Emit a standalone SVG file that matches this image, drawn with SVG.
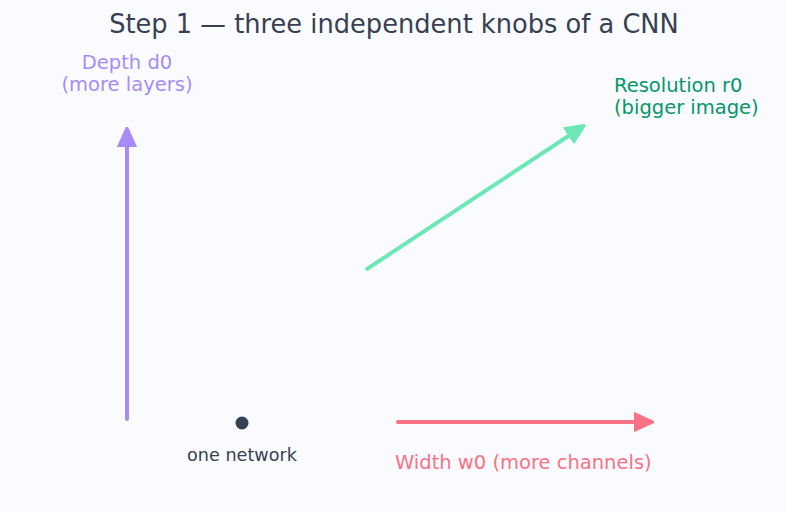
<svg xmlns="http://www.w3.org/2000/svg" width="787" height="512" viewBox="0 0 787 512">
<style>
text{font-family:"DejaVu Sans","Liberation Sans",sans-serif}
.t{font-size:25.7px;fill:#374151}
.lbl{font-size:19.5px}
.ax{fill:none;stroke-width:4;stroke-linecap:round}
</style>
<defs>
<marker id="ap" viewBox="0 0 10 10" refX="8" refY="5" markerWidth="5" markerHeight="5" orient="auto"><path d="M0,0.5 L10,5 L0,9.5 z" fill="#a78bfa" stroke="#a78bfa" stroke-linejoin="round"/></marker>
<marker id="ag" viewBox="0 0 10 10" refX="8" refY="5" markerWidth="5" markerHeight="5" orient="auto"><path d="M0,0.5 L10,5 L0,9.5 z" fill="#6ee7b7" stroke="#6ee7b7" stroke-linejoin="round"/></marker>
<marker id="ar" viewBox="0 0 10 10" refX="8" refY="5" markerWidth="5" markerHeight="5" orient="auto"><path d="M0,0.5 L10,5 L0,9.5 z" fill="#f87185" stroke="#f87185" stroke-linejoin="round"/></marker>
</defs>
<rect width="787" height="512" fill="#fafbfe"/>
<text class="t" x="394" y="33" text-anchor="middle">Step 1 — three independent knobs of a CNN</text>
<g id="connectors">
<line class="ax" x1="127" y1="419" x2="127" y2="131" stroke="#a78bfa" marker-end="url(#ap)"/>
<line class="ax" x1="367" y1="269" x2="582" y2="127" stroke="#6ee7b7" marker-end="url(#ag)"/>
<line class="ax" x1="398" y1="422" x2="650" y2="422" stroke="#f87185" marker-end="url(#ar)"/>
</g>
<g id="depth"><text class="lbl" x="127" y="69" text-anchor="middle" fill="#a78bfa">Depth d0</text><text class="lbl" x="127" y="91" text-anchor="middle" fill="#a78bfa">(more layers)</text></g>
<g id="resolution"><text class="lbl" x="614" y="92" fill="#059669">Resolution r0</text><text class="lbl" x="614" y="114" fill="#059669">(bigger image)</text></g>
<g id="width"><text class="lbl" x="395" y="469" fill="#f87185">Width w0 (more channels)</text></g>
<g id="network"><circle cx="242" cy="423" r="6.5" fill="#334155"/><text x="242" y="461" text-anchor="middle" font-size="17.6" fill="#374151">one network</text></g>
</svg>
